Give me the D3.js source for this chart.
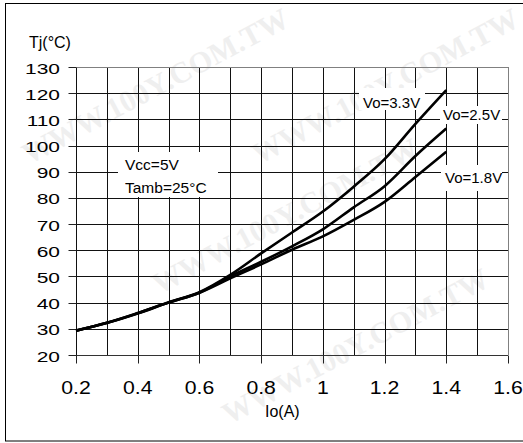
<!DOCTYPE html>
<html>
<head>
<meta charset="utf-8">
<script src="https://cdn.jsdelivr.net/npm/d3@7"></script>
<style>
html,body{margin:0;padding:0;background:#fff;}
svg{display:block;font-family:"Liberation Sans",Arial,sans-serif;}
</style>
</head>
<body>
<svg id="chart" width="523" height="443"></svg>
<script>
// ---- data ----
const currents = [0.2,0.3,0.4,0.5,0.6,0.7,0.8,0.9,1.0,1.1,1.2,1.3,1.4];
const tj33 = [29.3,32.3,36.0,40.2,44.0,50.6,58.8,66.8,74.8,84.3,94.8,108.3,121.2];
const tj25 = [29.3,32.3,36.0,40.0,43.8,50.0,55.6,61.5,68.0,76.4,84.5,96.0,106.5];
const tj18 = [29.3,32.2,35.8,40.0,43.8,49.3,54.6,60.2,65.3,71.6,78.5,88.0,97.6];
const seriesNames = ["Vo=3.3V","Vo=2.5V","Vo=1.8V"];
const xTickValues = [0.2,0.4,0.6,0.8,1.0,1.2,1.4,1.6];
const xTickLabels = ["0.2","0.4","0.6","0.8","1","1.2","1.4","1.6"];
const xGridValues = [0.2,0.3,0.4,0.5,0.6,0.7,0.8,0.9,1.0,1.1,1.2,1.3,1.4,1.5,1.6];
const yTickValues = [20,30,40,50,60,70,80,90,100,110,120,130];
const yTickLabels = ["20","30","40","50","60","70","80","90","100","110","120","130"];
const conditions = ["Vcc=5V","Tamb=25°C"];
const xTitle = "Io(A)";
const yTitle = "Tj(°C)";
const watermark = "WWW.100Y.COM.TW";

const svg = d3.select("#chart");
const x = d3.scaleLinear().domain([0.2,1.6]).range([76,508]);
const y = d3.scaleLinear().domain([20,130]).range([355,67]);

// watermark (faint, kept inside the picture)
const wm = svg.append("g").attr("fill","#efefef").attr("text-anchor","middle")
  .style("font-family","'Liberation Serif','Times New Roman',serif")
  .style("font-weight","bold").style("font-size","30px");
[[160,95],[290,225],[360,355],[390,95]].forEach(p=>{
  wm.append("text").attr("transform",`translate(${p[0]},${p[1]}) rotate(-28)`).text(watermark);
});

// outer frame
svg.append("rect").attr("x",5.5).attr("y",3.5).attr("width",530).attr("height",437.5)
  .attr("fill","none").attr("stroke","#000").attr("stroke-width",1);

// grid
const g = svg.append("g");
g.selectAll("line.v").data(xGridValues).join("line")
  .attr("x1",d=>Math.round(x(d))+0.5).attr("x2",d=>Math.round(x(d))+0.5)
  .attr("y1",y(130)).attr("y2",y(20))
  .attr("stroke",d=>d===1.6?"#808080":"#111").attr("stroke-width",1);
g.selectAll("line.h").data(yTickValues).join("line")
  .attr("x1",x(0.2)).attr("x2",x(1.6))
  .attr("y1",d=>Math.round(y(d))+0.5).attr("y2",d=>Math.round(y(d))+0.5)
  .attr("stroke",d=>d===130?"#808080":(d===20?"#333":"#111")).attr("stroke-width",1);

// axes ticks
const yAxis = d3.axisLeft(y).tickValues(yTickValues).tickSize(8).tickFormat("");
svg.append("g").attr("transform",`translate(${Math.round(x(0.2))+0.5},0)`).call(yAxis)
  .call(a=>a.select(".domain").remove())
  .call(a=>a.selectAll(".tick").attr("transform",d=>`translate(0,${Math.round(y(d))+0.5})`))
  .selectAll("line").attr("stroke","#222");
const xAxis = d3.axisBottom(x).tickValues(xTickValues).tickSize(8).tickFormat("");
svg.append("g").attr("transform",`translate(0,${Math.round(y(20))+0.5})`).call(xAxis)
  .call(a=>a.select(".domain").remove())
  .call(a=>a.selectAll(".tick").attr("transform",d=>`translate(${Math.round(x(d))+0.5},0)`))
  .selectAll("line").attr("stroke","#222");

// tick labels (horizontally stretched as in the reference)
svg.append("g").selectAll("text").data(yTickValues).join("text")
  .attr("transform",d=>`translate(60,${y(d)+6.5}) scale(1.35,1)`)
  .attr("text-anchor","end").style("font-size","15.5px").attr("fill","#000")
  .text((d,i)=>yTickLabels[i]);
svg.append("g").selectAll("text").data(xTickValues).join("text")
  .attr("transform",d=>`translate(${x(d)},394) scale(1.18,1)`)
  .attr("text-anchor","middle").style("font-size","18px").attr("fill","#000")
  .text((d,i)=>xTickLabels[i]);

// titles
svg.append("text").attr("x",29).attr("y",48).style("font-size","16px").text(yTitle);
svg.append("text").attr("x",265).attr("y",417).style("font-size","16px").text(xTitle);

// label boxes
const boxes = [
  {x:359,y:88,w:66,h:22,tx:363,ty:108,t:seriesNames[0]},
  {x:440,y:106,w:62,h:18,tx:443,ty:120,t:seriesNames[1]},
  {x:441,y:165,w:61,h:26,tx:445,ty:183,t:seriesNames[2]}
];
boxes.forEach(b=>{
  svg.append("rect").attr("x",b.x).attr("y",b.y).attr("width",b.w).attr("height",b.h).attr("fill","#fff");
  svg.append("text").attr("x",b.tx).attr("y",b.ty).style("font-size","15px").text(b.t);
});
svg.append("rect").attr("x",118).attr("y",152).attr("width",100).attr("height",45).attr("fill","#fff");
svg.append("text").attr("x",125).attr("y",170).style("font-size","15.5px").text(conditions[0]);
svg.append("text").attr("x",125).attr("y",193).style("font-size","15.5px").text(conditions[1]);

// curves
const line = d3.line().x((d,i)=>x(currents[i])).y(d=>y(d)).curve(d3.curveMonotoneX);
[tj33,tj25,tj18].forEach(s=>{
  svg.append("path").attr("d",line(s)).attr("fill","none").attr("stroke","#000")
    .attr("stroke-width",2.6).attr("stroke-linejoin","round");
});
</script>
</body>
</html>
